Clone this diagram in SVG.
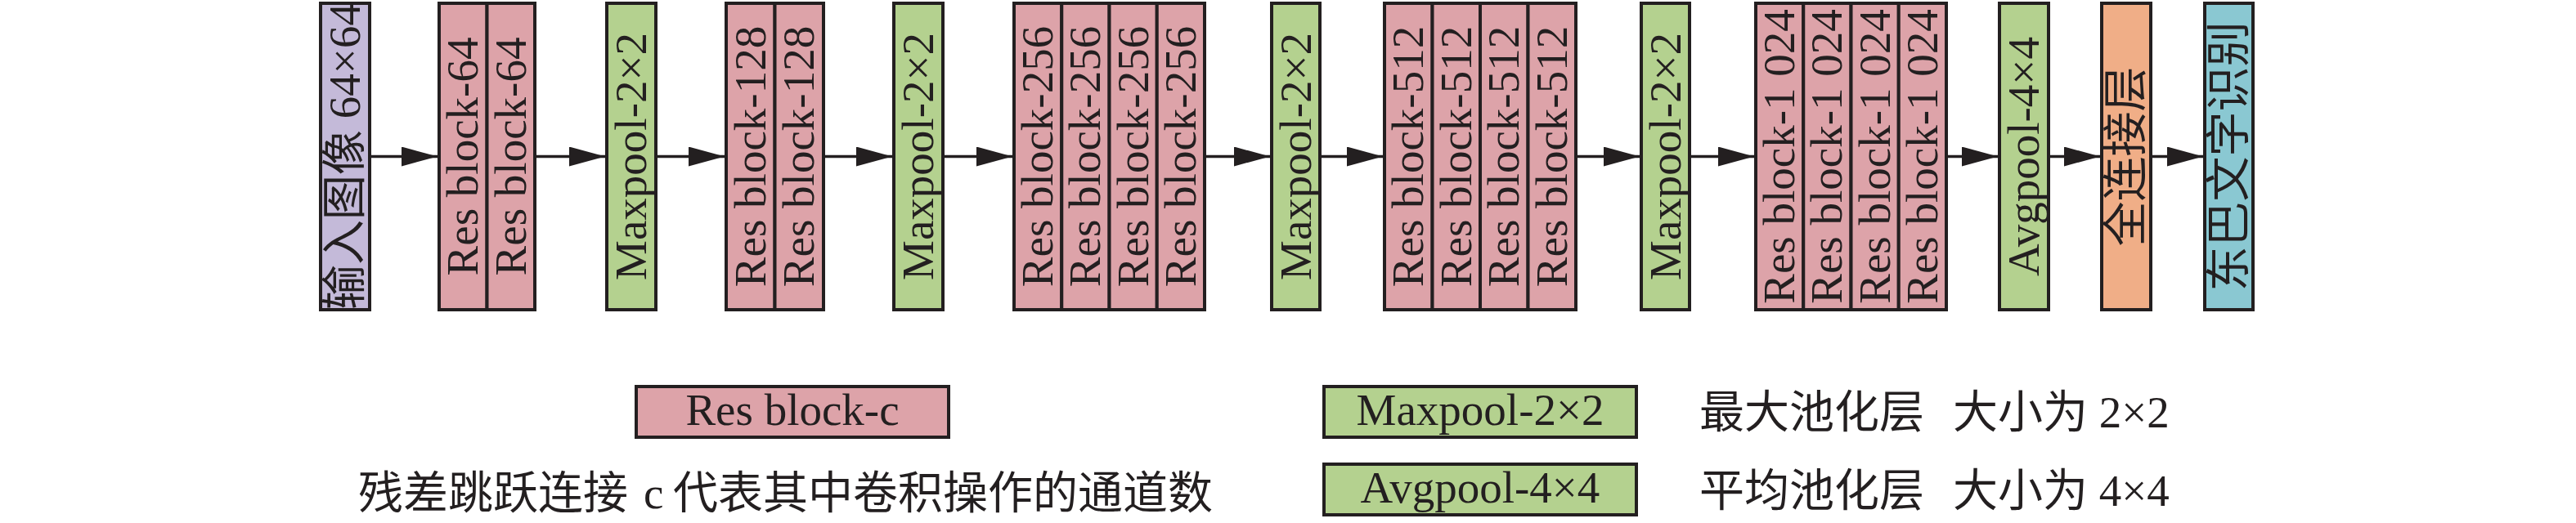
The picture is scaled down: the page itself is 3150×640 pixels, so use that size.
<svg xmlns="http://www.w3.org/2000/svg" width="3150" height="640" viewBox="0 0 3150 640">
<defs>
<style>
.b{stroke:#231f20;stroke-width:4}
.in{fill:#c4bad9}.res{fill:#dda3a9}.pool{fill:#b4d18f}.fc{fill:#f0ae87}.out{fill:#8ac8d2}
.t{font-family:"Liberation Serif","Noto Sans CJK SC",serif;font-size:55px;fill:#231f20}
.m{text-anchor:middle}
.conn line{stroke:#231f20;stroke-width:3.5;marker-end:url(#ah)}
</style>
<marker id="ah" markerUnits="userSpaceOnUse" markerWidth="44" markerHeight="24" refX="44" refY="12" orient="auto"><path d="M0,0L44,12L0,24z" fill="#231f20"/></marker>
</defs>
<rect width="3150" height="640" fill="#fff"/>
<g class="conn">
<line x1="454" y1="191.5" x2="535" y2="191.5"/>
<line x1="656" y1="191.5" x2="740" y2="191.5"/>
<line x1="804" y1="191.5" x2="886" y2="191.5"/>
<line x1="1009" y1="191.5" x2="1091" y2="191.5"/>
<line x1="1155" y1="191.5" x2="1238" y2="191.5"/>
<line x1="1475" y1="191.5" x2="1553" y2="191.5"/>
<line x1="1616" y1="191.5" x2="1691" y2="191.5"/>
<line x1="1929" y1="191.5" x2="2005" y2="191.5"/>
<line x1="2068" y1="191.5" x2="2145" y2="191.5"/>
<line x1="2382" y1="191.5" x2="2443" y2="191.5"/>
<line x1="2507" y1="191.5" x2="2568" y2="191.5"/>
<line x1="2632" y1="191.5" x2="2694" y2="191.5"/>
</g>
<g id="input">
<rect class="b in" x="392" y="4" width="60" height="375"/>
<text class="t m" transform="translate(440,191.5) rotate(-90)">输入图像 64×64</text>
</g>
<g id="res64">
<rect class="b res" x="537" y="4" width="58.5" height="375"/>
<rect class="b res" x="595.5" y="4" width="58.5" height="375"/>
<text class="t m" transform="translate(584,191.5) rotate(-90)">Res block-64</text>
<text class="t m" transform="translate(643,191.5) rotate(-90)">Res block-64</text>
</g>
<g id="maxpool1">
<rect class="b pool" x="742" y="4" width="60" height="375"/>
<text class="t m" transform="translate(790,191.5) rotate(-90)">Maxpool-2×2</text>
</g>
<g id="res128">
<rect class="b res" x="888" y="4" width="59.5" height="375"/>
<rect class="b res" x="947.5" y="4" width="59.5" height="375"/>
<text class="t m" transform="translate(936,191.5) rotate(-90)">Res block-128</text>
<text class="t m" transform="translate(995,191.5) rotate(-90)">Res block-128</text>
</g>
<g id="maxpool2">
<rect class="b pool" x="1093" y="4" width="60" height="375"/>
<text class="t m" transform="translate(1141,191.5) rotate(-90)">Maxpool-2×2</text>
</g>
<g id="res256">
<rect class="b res" x="1240" y="4" width="58.25" height="375"/>
<rect class="b res" x="1298.25" y="4" width="58.25" height="375"/>
<rect class="b res" x="1356.5" y="4" width="58.25" height="375"/>
<rect class="b res" x="1414.75" y="4" width="58.25" height="375"/>
<text class="t m" transform="translate(1287,191.5) rotate(-90)">Res block-256</text>
<text class="t m" transform="translate(1345.4,191.5) rotate(-90)">Res block-256</text>
<text class="t m" transform="translate(1403.6,191.5) rotate(-90)">Res block-256</text>
<text class="t m" transform="translate(1461.9,191.5) rotate(-90)">Res block-256</text>
</g>
<g id="maxpool3">
<rect class="b pool" x="1555" y="4" width="59" height="375"/>
<text class="t m" transform="translate(1602.5,191.5) rotate(-90)">Maxpool-2×2</text>
</g>
<g id="res512">
<rect class="b res" x="1693" y="4" width="58.5" height="375"/>
<rect class="b res" x="1751.5" y="4" width="58.5" height="375"/>
<rect class="b res" x="1810" y="4" width="58.5" height="375"/>
<rect class="b res" x="1868.5" y="4" width="58.5" height="375"/>
<text class="t m" transform="translate(1740.3,191.5) rotate(-90)">Res block-512</text>
<text class="t m" transform="translate(1798.8,191.5) rotate(-90)">Res block-512</text>
<text class="t m" transform="translate(1857.3,191.5) rotate(-90)">Res block-512</text>
<text class="t m" transform="translate(1915.8,191.5) rotate(-90)">Res block-512</text>
</g>
<g id="maxpool4">
<rect class="b pool" x="2007" y="4" width="59" height="375"/>
<text class="t m" transform="translate(2054.5,191.5) rotate(-90)">Maxpool-2×2</text>
</g>
<g id="res1024">
<rect class="b res" x="2147" y="4" width="58.25" height="375"/>
<rect class="b res" x="2205.25" y="4" width="58.25" height="375"/>
<rect class="b res" x="2263.5" y="4" width="58.25" height="375"/>
<rect class="b res" x="2321.75" y="4" width="58.25" height="375"/>
<text class="t m" transform="translate(2194.1,191.5) rotate(-90)">Res block-1 024</text>
<text class="t m" transform="translate(2252.4,191.5) rotate(-90)">Res block-1 024</text>
<text class="t m" transform="translate(2310.6,191.5) rotate(-90)">Res block-1 024</text>
<text class="t m" transform="translate(2368.9,191.5) rotate(-90)">Res block-1 024</text>
</g>
<g id="avgpool">
<rect class="b pool" x="2445" y="4" width="60" height="375"/>
<text class="t m" transform="translate(2493,191.5) rotate(-90)">Avgpool-4×4</text>
</g>
<g id="fc">
<rect class="b fc" x="2570" y="4" width="60" height="375"/>
<text class="t m" transform="translate(2618,191.5) rotate(-90)">全连接层</text>
</g>
<g id="output">
<rect class="b out" x="2696" y="4" width="59" height="375"/>
<text class="t m" transform="translate(2743.5,191.5) rotate(-90)">东巴文字识别</text>
</g>
<g id="legend-res">
<rect class="b res" x="778" y="473" width="382" height="62"/>
<text class="t m" x="969" y="520">Res block-c</text>
<text class="t" x="438" y="622">残差跳跃连接</text>
<text class="t" x="787" y="622">c</text>
<text class="t" x="823" y="622">代表其中卷积操作的通道数</text>
</g>
<g id="legend-maxpool">
<rect class="b pool" x="1619" y="473" width="382" height="62"/>
<text class="t m" x="1810" y="520">Maxpool-2×2</text>
<text class="t" x="2078" y="523">最大池化层</text>
<text class="t" x="2388" y="523">大小为 2×2</text>
</g>
<g id="legend-avgpool">
<rect class="b pool" x="1619" y="568" width="382" height="62"/>
<text class="t m" x="1810" y="615">Avgpool-4×4</text>
<text class="t" x="2078" y="619">平均池化层</text>
<text class="t" x="2388" y="619">大小为 4×4</text>
</g>
</svg>
